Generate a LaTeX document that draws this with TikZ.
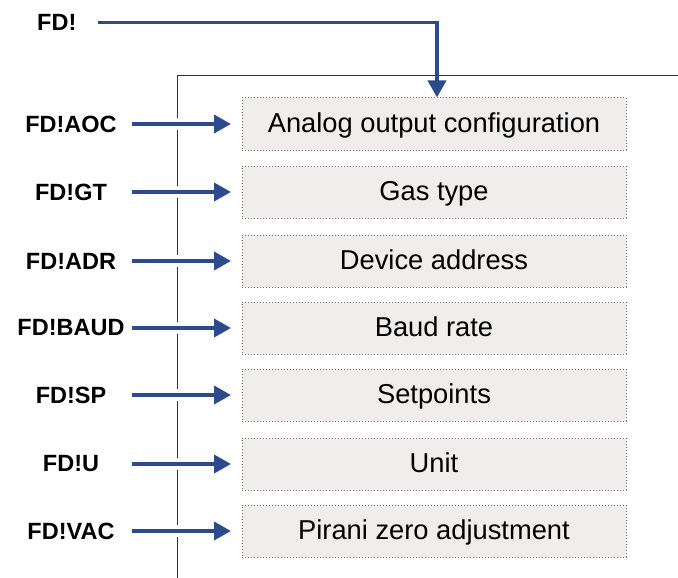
\documentclass[tikz,border=0pt]{standalone}
\usepackage{fontspec}
\setmainfont{Liberation Sans}
\usetikzlibrary{arrows.meta}
\definecolor{arrowblue}{HTML}{2E4A8E}
\definecolor{boxfill}{HTML}{F0EEED}
\definecolor{boxline}{HTML}{6E6E6E}
\tikzset{
  x=1pt,y=-1pt,
  fbox/.style={draw=boxline,dotted,line width=1pt,fill=boxfill,minimum width=384pt,minimum height=52pt,inner sep=0pt,text height=19.5pt,text depth=3.5pt,font=\fontsize{27.3}{30}\selectfont},
  cmd/.style={font=\bfseries\fontsize{23.5}{26}\selectfont,inner sep=0pt,anchor=center},
  conn/.style={draw=arrowblue,line width=3.7pt,-{Triangle[length=17pt,width=18pt]},
    preaction={draw=white,line width=12pt,-,shorten >=22pt}},
  frame/.style={draw=black!80,line width=1pt}
}
\begin{document}
\begin{tikzpicture}
\useasboundingbox (0,0) rectangle (678,578);
\draw[frame] (177,578) -- (177,76) -- (678,76);
\foreach \n/\y/\t/\c in {1/124/Analog output configuration/FD!AOC,2/192/Gas type/FD!GT,3/261/Device address/FD!ADR,4/328/Baud rate/FD!BAUD,5/395/Setpoints/FD!SP,6/464/Unit/FD!U,7/531/Pirani zero adjustment/FD!VAC}{
  \node[fbox] (b\n) at (434,\y) {\t};
  \node[cmd] (l\n) at (71,\y) {\c};
  \draw[conn] (132,\y) -- (b\n.west -| 231,0);
}
\node[cmd,anchor=west] (top) at (37,22) {FD!};
\coordinate (tstart) at (98,22.5);
\draw[conn] (tstart) -- (437,22.5) -- (b1.north -| 437,0);
\end{tikzpicture}
\end{document}
